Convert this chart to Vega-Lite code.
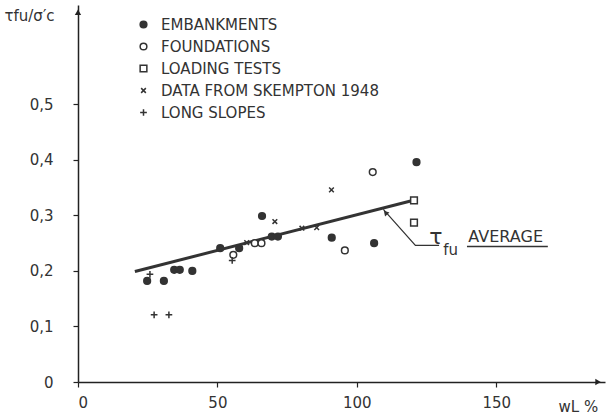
{
  "$schema": "https://vega.github.io/schema/vega-lite/v6.json",
  "width": 527,
  "height": 377,
  "autosize": {"type": "none"},
  "padding": {"left": 78, "top": 5, "right": 7, "bottom": 34},
  "background": "white",
  "config": {
    "view": {"stroke": null},
    "font": "DejaVu Sans",
    "text": {"color": "#333"}
  },
  "datasets": {
    "pts": [
      {"x": 24.8, "y": 0.182, "cat": "EMBANKMENTS"},
      {"x": 30.8, "y": 0.182, "cat": "EMBANKMENTS"},
      {"x": 34.5, "y": 0.202, "cat": "EMBANKMENTS"},
      {"x": 36.5, "y": 0.202, "cat": "EMBANKMENTS"},
      {"x": 41.0, "y": 0.200, "cat": "EMBANKMENTS"},
      {"x": 51.0, "y": 0.241, "cat": "EMBANKMENTS"},
      {"x": 57.8, "y": 0.241, "cat": "EMBANKMENTS"},
      {"x": 66.0, "y": 0.299, "cat": "EMBANKMENTS"},
      {"x": 69.5, "y": 0.262, "cat": "EMBANKMENTS"},
      {"x": 71.7, "y": 0.262, "cat": "EMBANKMENTS"},
      {"x": 91.0, "y": 0.260, "cat": "EMBANKMENTS"},
      {"x": 106.2, "y": 0.250, "cat": "EMBANKMENTS"},
      {"x": 121.4, "y": 0.396, "cat": "EMBANKMENTS"},
      {"x": 55.7, "y": 0.229, "cat": "FOUNDATIONS"},
      {"x": 63.4, "y": 0.250, "cat": "FOUNDATIONS"},
      {"x": 65.8, "y": 0.250, "cat": "FOUNDATIONS"},
      {"x": 95.7, "y": 0.237, "cat": "FOUNDATIONS"},
      {"x": 105.7, "y": 0.378, "cat": "FOUNDATIONS"},
      {"x": 120.5, "y": 0.327, "cat": "LOADING TESTS"},
      {"x": 120.5, "y": 0.287, "cat": "LOADING TESTS"},
      {"x": 60.5, "y": 0.251, "cat": "DATA FROM SKEMPTON 1948"},
      {"x": 70.6, "y": 0.289, "cat": "DATA FROM SKEMPTON 1948"},
      {"x": 80.3, "y": 0.277, "cat": "DATA FROM SKEMPTON 1948"},
      {"x": 85.6, "y": 0.278, "cat": "DATA FROM SKEMPTON 1948"},
      {"x": 90.9, "y": 0.346, "cat": "DATA FROM SKEMPTON 1948"},
      {"x": 25.8, "y": 0.194, "cat": "LONG SLOPES"},
      {"x": 27.3, "y": 0.121, "cat": "LONG SLOPES"},
      {"x": 32.6, "y": 0.121, "cat": "LONG SLOPES"},
      {"x": 55.3, "y": 0.219, "cat": "LONG SLOPES"}
    ],
    "avg": [
      {"x": 20.4, "y": 0.199},
      {"x": 120.0, "y": 0.327}
    ],
    "leader": [
      {"x": 109.5, "y": 0.311, "o": 1},
      {"x": 121.0, "y": 0.246, "o": 2},
      {"x": 129.5, "y": 0.246, "o": 3}
    ],
    "arrowhead": [
      {"x": 110.3, "y": 0.305}
    ],
    "underline": [
      {"x": 139.5, "x2": 168.5, "y": 0.244}
    ],
    "labels": [
      {"x": 126.0, "y": 0.262, "t": "τ", "s": 22},
      {"x": 131.0, "y": 0.238, "t": "fu", "s": 15},
      {"x": 140.0, "y": 0.262, "t": "AVERAGE", "s": 16}
    ],
    "arrowUp": [{"x": 0, "y": 0.666}],
    "arrowRight": [{"x": 186.5, "y": 0}]
  },
  "encoding": {
    "x": {
      "field": "x",
      "type": "quantitative",
      "scale": {"domain": [0, 189], "nice": false, "zero": false},
      "axis": {
        "values": [0, 50, 100, 150],
        "grid": false,
        "domainColor": "#222",
        "domainWidth": 1.5,
        "tickColor": "#222",
        "tickWidth": 1.2,
        "tickSize": 5,
        "labelFontSize": 15,
        "labelColor": "#333",
        "labelPadding": 8,
        "labelFont": "DejaVu Sans",
        "title": "wL %",
        "titleX": 480,
        "titleY": 24,
        "titleAlign": "left",
        "titleBaseline": "middle",
        "titleFontSize": 15,
        "titleFontWeight": "normal",
        "titleColor": "#333",
        "titleFont": "DejaVu Sans"
      }
    },
    "y": {
      "field": "y",
      "type": "quantitative",
      "scale": {"domain": [0, 0.679], "nice": false, "zero": false},
      "axis": {
        "values": [0, 0.1, 0.2, 0.3, 0.4, 0.5],
        "labelExpr": "datum.value == 0 ? '0' : replace(format(datum.value, '.1f'), '.', ',')",
        "grid": false,
        "domainColor": "#222",
        "domainWidth": 1.5,
        "tickColor": "#222",
        "tickWidth": 1.2,
        "tickSize": 5,
        "labelFontSize": 15,
        "labelColor": "#333",
        "labelPadding": 20,
        "labelFont": "DejaVu Sans",
        "title": "τfu/σ′c",
        "titleAngle": 0,
        "titleX": -74,
        "titleY": 10,
        "titleAlign": "left",
        "titleBaseline": "middle",
        "titleFontSize": 15,
        "titleFontWeight": "normal",
        "titleColor": "#333",
        "titleFont": "DejaVu Sans"
      }
    }
  },
  "layer": [
    {
      "data": {"name": "avg"},
      "mark": {"type": "line", "color": "#333", "strokeWidth": 3},
      "encoding": {}
    },
    {
      "data": {"name": "leader"},
      "mark": {"type": "line", "color": "#333", "strokeWidth": 1.2},
      "encoding": {"order": {"field": "o", "type": "quantitative"}}
    },
    {
      "data": {"name": "arrowhead"},
      "mark": {"type": "point", "shape": "triangle-up", "filled": true, "color": "#333", "size": 35, "angle": -42, "opacity": 1},
      "encoding": {}
    },
    {
      "data": {"name": "underline"},
      "mark": {"type": "rule", "color": "#333", "strokeWidth": 1.5},
      "encoding": {"x2": {"field": "x2"}}
    },
    {
      "data": {"name": "labels"},
      "mark": {"type": "text", "align": "left", "baseline": "middle", "color": "#333"},
      "encoding": {
        "text": {"field": "t"},
        "size": {"field": "s", "type": "quantitative", "scale": null}
      }
    },
    {
      "data": {"name": "arrowUp"},
      "mark": {"type": "point", "shape": "triangle-up", "filled": true, "color": "#222", "size": 40, "opacity": 1, "clip": false},
      "encoding": {}
    },
    {
      "data": {"name": "arrowRight"},
      "mark": {"type": "point", "shape": "triangle-right", "filled": true, "color": "#222", "size": 40, "opacity": 1, "clip": false},
      "encoding": {}
    },
    {
      "data": {"name": "pts"},
      "mark": {"type": "point", "stroke": "#333", "strokeWidth": 1.5, "size": 45, "opacity": 1},
      "encoding": {
        "shape": {
          "field": "cat",
          "type": "nominal",
          "scale": {
            "domain": ["EMBANKMENTS", "FOUNDATIONS", "LOADING TESTS", "DATA FROM SKEMPTON 1948", "LONG SLOPES"],
            "range": ["circle", "circle", "square", "M-0.7,-0.7L0.7,0.7M-0.7,0.7L0.7,-0.7", "M-1,0L1,0M0,-1L0,1"]
          },
          "legend": {
            "orient": "none",
            "legendX": 58,
            "legendY": 12,
            "title": null,
            "labelFontSize": 15,
            "labelColor": "#333",
            "labelFont": "DejaVu Sans",
            "labelLimit": 0,
            "symbolSize": 45,
            "rowPadding": 6,
            "labelOffset": 10,
            "encode": {"symbols": {"update": {"stroke": {"value": "#333"}, "strokeWidth": {"value": 1.5}}}}
          }
        },
        "fill": {
          "field": "cat",
          "type": "nominal",
          "scale": {
            "domain": ["EMBANKMENTS", "FOUNDATIONS", "LOADING TESTS", "DATA FROM SKEMPTON 1948", "LONG SLOPES"],
            "range": ["#333333", "#ffffff", "#ffffff", "transparent", "transparent"]
          },
          "legend": {
            "orient": "none",
            "legendX": 58,
            "legendY": 12,
            "title": null,
            "labelFontSize": 15,
            "labelColor": "#333",
            "labelFont": "DejaVu Sans",
            "labelLimit": 0,
            "symbolSize": 45,
            "rowPadding": 6,
            "labelOffset": 10,
            "encode": {"symbols": {"update": {"stroke": {"value": "#333"}, "strokeWidth": {"value": 1.5}}}}
          }
        }
      }
    }
  ]
}
